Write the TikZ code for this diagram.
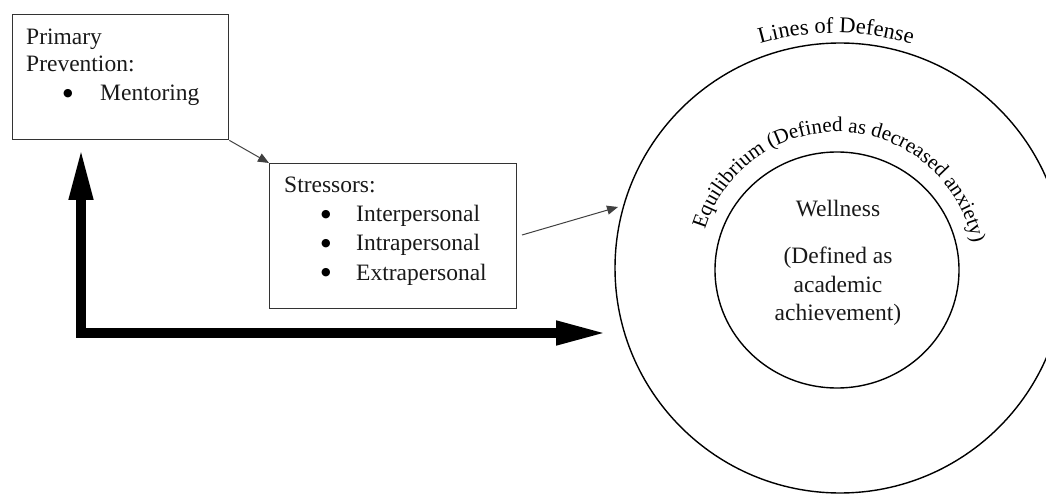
\documentclass[tikz,border=0pt]{standalone}
\usepackage{fontspec}
\setmainfont{Liberation Serif}
\newfontfamily\symfnt{DejaVu Sans}
\usetikzlibrary{arrows.meta,decorations.text,shapes.geometric}
\begin{document}
\begin{tikzpicture}[x=1pt,y=1pt,
  boxframe/.style={draw=black!80,line width=1.4pt,inner sep=0pt,anchor=north west},
  txt/.style={anchor=base west,inner sep=0pt,font=\fontsize{23.5}{28}\selectfont,text=black!90},
  ctxt/.style={anchor=base,inner sep=0pt,font=\fontsize{23.5}{28}\selectfont,text=black!90},
  bul/.style={anchor=center,inner sep=0pt,font=\symfnt\fontsize{11}{13}\selectfont},
  thinarrow/.style={draw=black!75,line width=1pt,-{Triangle[length=11pt,width=9pt]}},
  bigarrow/.style={line width=10pt,{Triangle[length=53pt,width=22pt]}-{Triangle[length=52pt,width=22pt]}},
  ring/.style={draw,line width=1.4pt,inner sep=0pt}]
\useasboundingbox (0,0) rectangle (1046,-494);
\clip (0,0) rectangle (1046,-494);

% Primary prevention box
\node[boxframe,minimum width=216pt,minimum height=125pt] (prim) at (12,-14) {};
\node[txt] (p1) at (26,-45) {Primary};
\node[txt] (p2) at (26,-72) {Prevention:};
\node[bul] (pb) at (68,-94) {●};
\node[txt] (p3) at (100,-101) {Mentoring};

% Stressors box
\node[boxframe,minimum width=247pt,minimum height=145pt] (stress) at (269,-163) {};
\node[txt] (s0) at (284,-193) {Stressors:};
\node[bul] (sb1) at (326,-215) {●};
\node[txt] (s1) at (356,-222) {Interpersonal};
\node[bul] (sb2) at (326,-244) {●};
\node[txt] (s2) at (356,-251) {Intrapersonal};
\node[bul] (sb3) at (326,-273) {●};
\node[txt] (s3) at (356,-280) {Extrapersonal};

% circles
\node[ring,circle,minimum size=450pt] (outer) at (840,-268) {};
\node[ring,ellipse,minimum width=244pt,minimum height=236pt] (inner) at (837,-270) {};

% wellness text
\node[ctxt] (w1) at (838,-217) {Wellness};
\node[ctxt] (w2) at (838,-263) {(Defined as};
\node[ctxt] (w3) at (838,-292) {academic};
\node[ctxt] (w4) at (838,-320) {achievement)};

% curved labels
\path[decorate,decoration={text along path,text align=center,
  text={|\fontsize{22.5}{26}\selectfont|Lines of Defense}}]
  (836,-303) ++(115:270) arc[start angle=115,end angle=65,radius=270];
\path[decorate,decoration={text along path,text align=center,
  text={|\fontsize{21}{24}\selectfont|Equilibrium (Defined as decreased anxiety)}}]
  (837,-270) ++(167:138) arc[start angle=167,end angle=7,radius=138];

% connectors
\draw[thinarrow] (prim.south east) -- (stress.north west);
\coordinate (a2s) at (522,-235);
\coordinate (a2e) at (618,-207);
\draw[thinarrow] (a2s) -- (a2e);

\coordinate (fbTop) at (81,-147);
\coordinate (fbCorner) at (81,-333);
\coordinate (fbEnd) at (608,-333);
\draw[bigarrow] (fbTop) -- (fbCorner) -- (fbEnd);
\end{tikzpicture}
\end{document}
